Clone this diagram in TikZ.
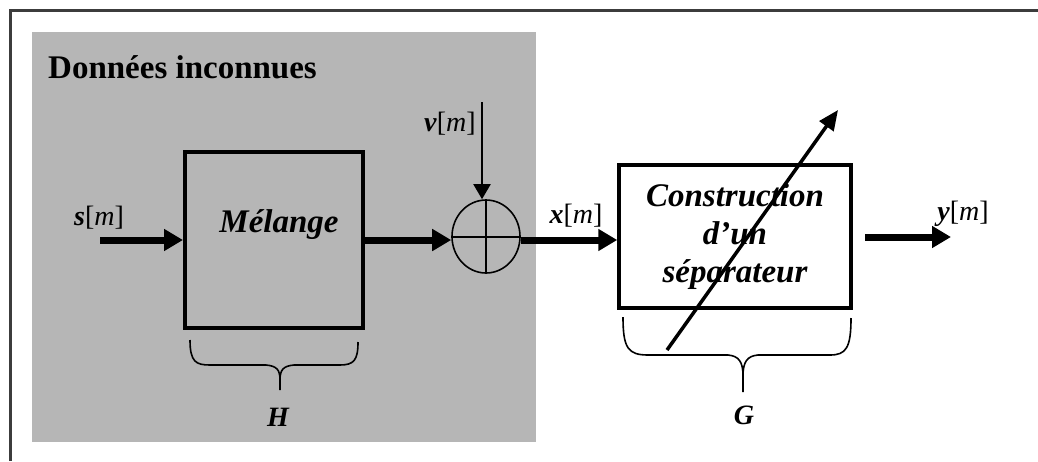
\documentclass[tikz,border=0pt]{standalone}
\usepackage{fontspec}
\setmainfont{Liberation Serif}
\usetikzlibrary{arrows.meta,shapes.geometric}
\definecolor{halftone}{RGB}{182,182,182}
\definecolor{framegray}{RGB}{60,60,60}
\tikzset{
  lbl/.style={inner sep=0pt, font=\fontsize{28}{30}\selectfont},
  boxtxt/.style={inner sep=0pt, align=center, font=\fontsize{33}{38}\selectfont\bfseries\itshape},
  blockbox/.style={draw=black, line width=4pt, inner sep=0pt},
  bigarrow/.style={line width=7pt, -{Triangle[length=19pt,width=21pt]}},
  thinarrow/.style={line width=2pt, -{Triangle[length=15pt,width=17pt]}},
  diagarrow/.style={line width=3.5pt, -{Triangle[length=20pt,width=17pt]}},
  bracestyle/.style={line width=1.6pt, line join=round},
}
\newcommand{\sig}[1]{\textbf{\textit{#1}}[\textit{m}]}
\begin{document}
\begin{tikzpicture}[x=1pt,y=-1pt]
\useasboundingbox (0,0) rectangle (1038,461);
% frame (top and left edges)
\coordinate (fbl) at (10,461);
\coordinate (ftl) at (10,10);
\coordinate (ftr) at (1038,10);
\draw[framegray, line width=3pt] (fbl) -- (ftl) -- (ftr);
% unknown data region
\fill[halftone] (32,32) rectangle (536,442);
\node[anchor=base west, inner sep=0pt, font=\fontsize{33}{36}\selectfont\bfseries] (title) at (48,78) {Données inconnues};
% mixing block
\node[blockbox, minimum width=178pt, minimum height=176pt] (mel) at (274,240) {};
\node[boxtxt] (meltxt) at (279,225) {Mélange};
% sum node
\node[draw, ellipse, line width=1.6pt, minimum width=68pt, minimum height=73pt, inner sep=0pt] (sum) at (486,236.5) {};
\draw[line width=2pt] (sum.west) -- (sum.east);
\draw[line width=1.2pt] (sum.north) -- (sum.south);
% separator block
\node[blockbox, line width=3.5pt, minimum width=232pt, minimum height=143pt] (con) at (735,236.5) {};
\node[boxtxt] (contxt) at (735,237) {Construction\\d’un\\séparateur};
% labels
\node[lbl] (s) at (99,218) {\sig{s}};
\node[lbl] (v) at (450,124) {\sig{v}};
\node[lbl] (x) at (576,216) {\sig{x}};
\node[lbl] (y) at (963,214) {\sig{y}};
\node[lbl, font=\fontsize{28}{30}\selectfont\bfseries\itshape] (H) at (278,417) {H};
\node[lbl, font=\fontsize{28}{30}\selectfont\bfseries\itshape] (G) at (744,415) {G};
% connectors
\coordinate (sin) at (100,240);
\draw[bigarrow] (sin) -- (sin -| mel.west);
\draw[bigarrow] (mel.east |- 0,240) -- (sum.west |- 0,240);
\draw[bigarrow] (sum.east |- 0,240) -- (con.west |- 0,240);
\coordinate (yout) at (865,237);
\coordinate (yend) at (951,237);
\draw[bigarrow] (yout) -- (yend);
\coordinate (vtop) at (482,102);
\draw[thinarrow] (vtop) -- (vtop |- sum.north);
% adaptive arrow
\coordinate (d1) at (667,350);
\coordinate (d2) at (838,110);
\draw[diagarrow] (d1) -- (d2);
% braces
\draw[bracestyle] (190,340) .. controls (190,362) and (196,365) .. (210,365) -- (266,365)
  .. controls (277,366) and (280,370) .. (280,380) -- (280,390);
\draw[bracestyle] (280,380) .. controls (280,370) and (283,366) .. (294,365) -- (340,365)
  .. controls (354,365) and (358,360) .. (358,342);
\draw[bracestyle] (623,317) .. controls (623,348) and (628,355) .. (648,355) -- (728,355)
  .. controls (739,356) and (743,362) .. (743,376) -- (743,392);
\draw[bracestyle] (743,376) .. controls (743,362) and (747,356) .. (758,355) -- (830,355)
  .. controls (846,355) and (851,348) .. (851,318);
\end{tikzpicture}
\end{document}
